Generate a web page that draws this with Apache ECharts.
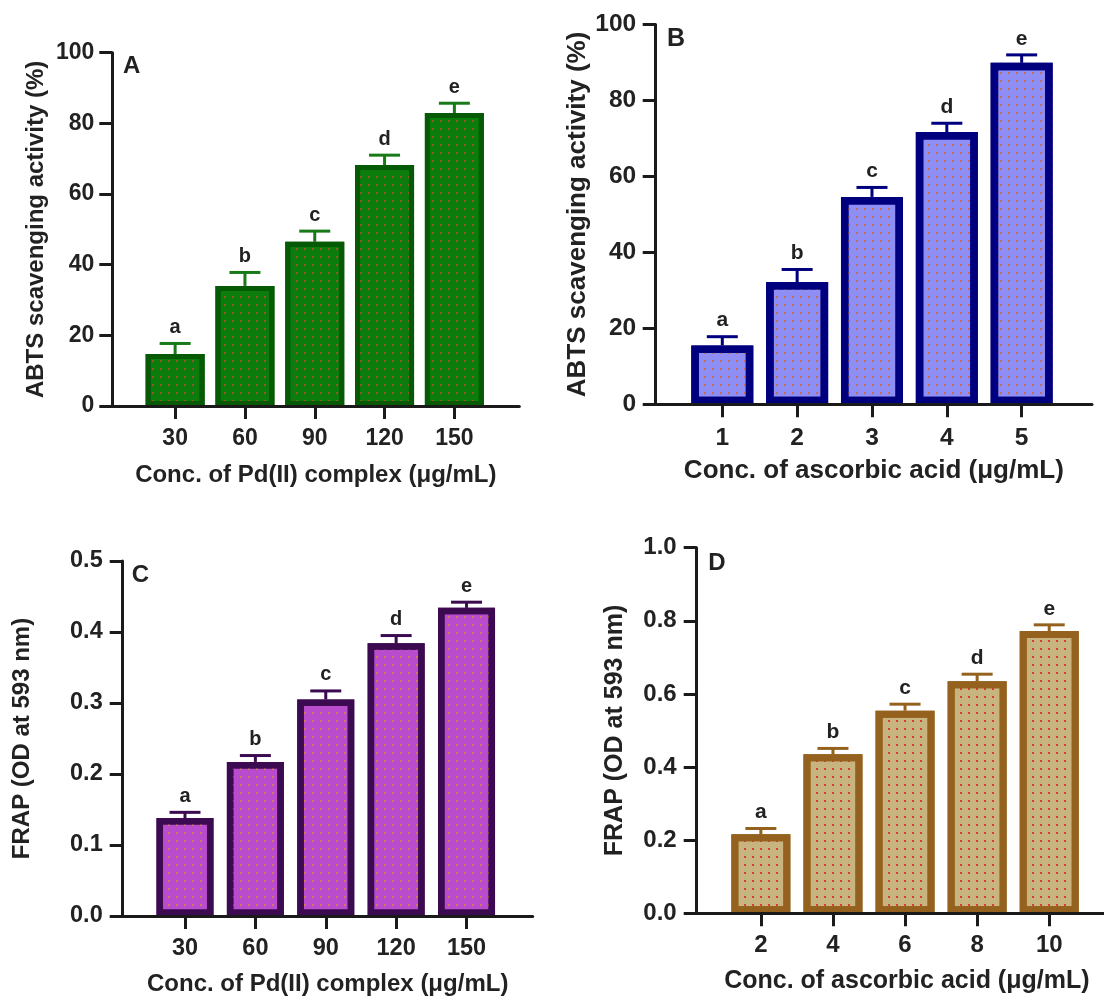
<!DOCTYPE html>
<html><head><meta charset="utf-8">
<script src="https://cdn.jsdelivr.net/npm/echarts@6/dist/echarts.min.js"></script>
<style>html,body{margin:0;padding:0;background:#fff}#c{width:1104px;height:997px}</style>
</head><body><div id="c"></div>
<script>
// ---- data ----
const catA = ['30', '60', '90', '120', '150'];
const valA = [14.7, 34.0, 46.5, 68.2, 82.9];
const errA = [3.0, 3.8, 3.0, 2.8, 2.8];

const catB = ['1', '2', '3', '4', '5'];
const valB = [15.5, 32.2, 54.6, 71.7, 89.9];
const errB = [2.3, 3.3, 2.5, 2.3, 2.1];

const catC = ['30', '60', '90', '120', '150'];
const valC = [0.138, 0.217, 0.305, 0.384, 0.434];
const errC = [0.008, 0.009, 0.012, 0.011, 0.008];

const catD = ['2', '4', '6', '8', '10'];
const valD = [0.216, 0.435, 0.554, 0.635, 0.772];
const errD = [0.016, 0.016, 0.018, 0.019, 0.017];

const sigLetters = ['a', 'b', 'c', 'd', 'e'];
const panelLetters = ['A', 'B', 'C', 'D'];
const yTitles = ['ABTS scavenging activity (%)', 'ABTS scavenging activity (%)', 'FRAP (OD at 593 nm)', 'FRAP (OD at 593 nm)'];
const xTitles = ['Conc. of Pd(II) complex (\u03bcg/mL)', 'Conc. of ascorbic acid (\u03bcg/mL)', 'Conc. of Pd(II) complex (\u03bcg/mL)', 'Conc. of ascorbic acid (\u03bcg/mL)'];
const yMax = [100, 100, 0.5, 1.0];
const yStep = [20, 20, 0.1, 0.2];
const yDecimals = [0, 0, 1, 1];

// ---- layout / style ----
const FONT = '"Liberation Sans", Arial, sans-serif';
const TXT = '#222';
const panels = [
  {cats: catA, vals: valA, errs: errA, grid: {left: 112.3, top: 52.7, width: 407, height: 353.3}, xmin: 0.1, xmax: 5.93,
   fill: '#0c7c0c', border: '#065a06', errColor: '#177a17', bw: 59, bdw: 5, dot: 'rgba(175,80,45,0.85)',
   fs: {tick: 23, title: 24, letter: 20, panel: 24}, nameGapY: 64, nameGapX: 57, lblY: 18, lblX: 21, panelPos: [131.7, 66.5]},
  {cats: catB, vals: valB, errs: errB, grid: {left: 655.7, top: 24.5, width: 436.3, height: 379.8}, xmin: 0.11, xmax: 5.94,
   fill: '#8e8ef4', border: '#00007e', errColor: '#00007e', bw: 62, bdw: 7.5, dot: 'rgba(205,105,60,0.85)',
   fs: {tick: 24.5, title: 26, letter: 21, panel: 25}, nameGapY: 65, nameGapX: 54, lblY: 19.5, lblX: 21, panelPos: [676, 39.3]},
  {cats: catC, vals: valC, errs: errC, grid: {left: 122.7, top: 561, width: 410, height: 355}, xmin: 0.115, xmax: 5.94,
   fill: '#b84ccc', border: '#3c0a50', errColor: '#3c0a50', bw: 57, bdw: 6.5, dot: 'rgba(215,135,60,0.8)',
   fs: {tick: 23.5, title: 24, letter: 20, panel: 24}, nameGapY: 88, nameGapX: 56, lblY: 20, lblX: 21, panelPos: [140.3, 575]},
  {cats: catD, vals: valD, errs: errD, grid: {left: 696.7, top: 547.7, width: 420.3, height: 365.6}, xmin: 0.11, xmax: 5.94,
   fill: '#c8b47e', border: '#94621e', errColor: '#94621e', bw: 59, bdw: 7, dot: 'rgba(215,45,45,0.9)',
   fs: {tick: 24, title: 25, letter: 21, panel: 24}, nameGapY: 69, nameGapX: 55, lblY: 20, lblX: 20, panelPos: [717, 563]}
];

const grids = [], xAxes = [], yAxes = [], series = [], graphics = [];
panels.forEach((p, k) => {
  grids.push(Object.assign({containLabel: false, outerBoundsMode: 'none'}, p.grid));
  const ticks = p.cats.map((c, i) => i + 1);
  xAxes.push({
    type: 'value', gridIndex: k, min: p.xmin, max: p.xmax, z: 10,
    axisLine: {show: true, lineStyle: {color: '#1a1a1a', width: 3}},
    axisTick: {show: true, customValues: ticks, length: 13, lineStyle: {color: '#1a1a1a', width: 3}},
    axisLabel: {show: true, customValues: ticks, margin: p.lblX, fontSize: p.fs.tick, fontWeight: 'bold', fontFamily: FONT, color: TXT,
      formatter: v => p.cats[Math.round(v) - 1]},
    splitLine: {show: false},
    name: xTitles[k], nameLocation: 'middle', nameGap: p.nameGapX,
    nameTextStyle: {fontSize: p.fs.title, fontWeight: 'bold', fontFamily: FONT, color: TXT}
  });
  yAxes.push({
    type: 'value', gridIndex: k, min: 0, max: yMax[k], interval: yStep[k], z: 10,
    axisLine: {show: true, lineStyle: {color: '#1a1a1a', width: 3}},
    axisTick: {show: true, length: 13, lineStyle: {color: '#1a1a1a', width: 3}},
    axisLabel: {margin: p.lblY, fontSize: p.fs.tick, fontWeight: 'bold', fontFamily: FONT, color: TXT,
      formatter: v => v.toFixed(yDecimals[k])},
    splitLine: {show: false},
    name: yTitles[k], nameLocation: 'middle', nameRotate: 90, nameGap: p.nameGapY,
    nameTextStyle: {fontSize: p.fs.title, fontWeight: 'bold', fontFamily: FONT, color: TXT}
  });
  series.push({
    type: 'bar', xAxisIndex: k, yAxisIndex: k, barWidth: p.bw, z: 3,
    data: p.vals.map((v, i) => [i + 1, v]),
    itemStyle: {color: p.fill, borderColor: p.border, borderWidth: p.bdw,
      decal: {symbol: 'rect', symbolSize: 1, dashArrayX: [[1.6, 5.4]], dashArrayY: [1.6, 5.2], color: p.dot}},
    emphasis: {disabled: true}, silent: true
  });
  series.push({
    type: 'custom', xAxisIndex: k, yAxisIndex: k, z: 2, clip: false, silent: true,
    data: p.vals.map((v, i) => [i + 1, v, v + p.errs[i]]),
    renderItem: (params, api) => {
      const x = api.value(0);
      const p0 = api.coord([x, api.value(1)]);
      const p1 = api.coord([x, api.value(2)]);
      const letter = sigLetters[params.dataIndex];
      return {type: 'group', children: [
        {type: 'line', shape: {x1: p0[0], y1: p0[1], x2: p1[0], y2: p1[1]}, style: {stroke: p.errColor, lineWidth: 3}},
        {type: 'line', shape: {x1: p1[0] - 15.5, y1: p1[1], x2: p1[0] + 15.5, y2: p1[1]}, style: {stroke: p.errColor, lineWidth: 3}},
        {type: 'text', x: p1[0], y: p1[1] - 16, style: {text: letter, fill: TXT,
          font: 'bold ' + p.fs.letter + 'px ' + FONT, align: 'center', verticalAlign: 'middle',
          textAlign: 'center', textVerticalAlign: 'middle'}}
      ]};
    }
  });
  graphics.push({type: 'text', x: p.panelPos[0], y: p.panelPos[1], z: 100,
    style: {text: panelLetters[k], fill: TXT, font: 'bold ' + p.fs.panel + 'px ' + FONT,
      align: 'center', verticalAlign: 'middle', textAlign: 'center', textVerticalAlign: 'middle'}});
});

const chart = echarts.init(document.getElementById('c'), null, {renderer: 'canvas'});
chart.setOption({
  backgroundColor: '#fff',
  animation: false,
  grid: grids, xAxis: xAxes, yAxis: yAxes, series: series, graphic: graphics
});
</script></body></html>
